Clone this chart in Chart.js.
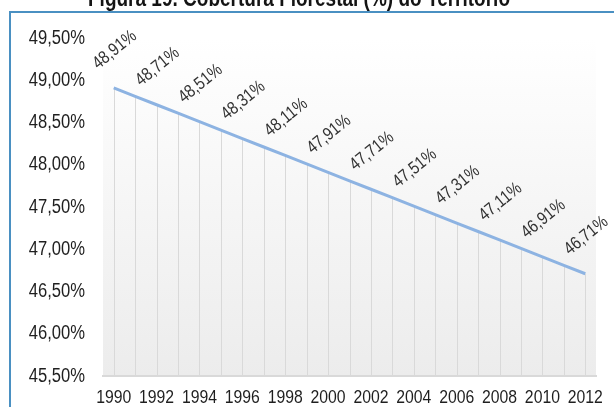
<!DOCTYPE html>
<html>
<head>
<meta charset="utf-8">
<script src="https://cdn.jsdelivr.net/npm/chart.js@4"></script>
<style>
  html, body { margin: 0; padding: 0; background: #fff; }
  #wrap { width: 614px; height: 407px; position: relative; }
</style>
</head>
<body>
<div id="wrap"><canvas id="myChart" width="614" height="407"></canvas></div>
<script>
'use strict';

const years = ['1990', '1991', '1992', '1993', '1994', '1995', '1996', '1997', '1998', '1999', '2000',
  '2001', '2002', '2003', '2004', '2005', '2006', '2007', '2008', '2009', '2010', '2011', '2012'];
const cobertura = [48.91, 48.81, 48.71, 48.61, 48.51, 48.41, 48.31, 48.21, 48.11, 48.01, 47.91,
  47.81, 47.71, 47.61, 47.51, 47.41, 47.31, 47.21, 47.11, 47.01, 46.91, 46.81, 46.71];
const titleText = 'Figura 19. Cobertura Florestal (%) do Território';

const pct = v => v.toFixed(2).replace('.', ',') + '%';
const font = '"Liberation Sans", Arial, sans-serif';
const narrow = 0.83; // the original uses a narrow face, squeeze Liberation Sans

// draw text squeezed horizontally
function narrowText(c, txt, x, y, align) {
  c.save();
  c.translate(x, y);
  c.scale(narrow, 1);
  c.textAlign = align;
  c.fillText(txt, 0, 0);
  c.restore();
}

const backdrop = {
  id: 'backdrop',
  beforeDraw(chart) {
    const c = chart.ctx;
    const a = chart.chartArea;
    c.save();
    const g = c.createLinearGradient(0, a.top, 0, a.bottom);
    g.addColorStop(0, '#ffffff');
    g.addColorStop(1, '#ececec');
    c.fillStyle = g;
    c.fillRect(a.left, a.top, a.right - a.left, a.bottom - a.top);

    c.strokeStyle = '#4a90c2';
    c.lineWidth = 2;
    c.strokeRect(10, 12, chart.width + 20, chart.height + 20);

    // title, mostly cut off at the top edge
    c.fillStyle = '#141414';
    c.font = 'bold 23px ' + font;
    c.textBaseline = 'alphabetic';
    const w = c.measureText(titleText).width;
    c.save();
    c.translate(299, 6);
    c.scale(422 / w, 1);
    c.textAlign = 'center';
    c.fillText(titleText, 0, 0);
    c.restore();

    // axis labels
    const x = chart.scales.x, y = chart.scales.y;
    c.fillStyle = '#1f1f1f';
    c.textBaseline = 'middle';
    c.font = '20px ' + font;
    y.ticks.forEach(t => {
      narrowText(c, pct(t.value), a.left - 18, y.getPixelForValue(t.value), 'right');
    });
    c.font = '19px ' + font;
    years.forEach((yr, i) => {
      if (i % 2) return;
      narrowText(c, yr, x.getPixelForValue(i), a.bottom + 22, 'center');
    });
    c.restore();
  },
  // drop lines from each point to the axis
  beforeDatasetsDraw(chart) {
    const c = chart.ctx;
    const x = chart.scales.x, y = chart.scales.y;
    c.save();
    c.strokeStyle = '#d9d9d9';
    c.lineWidth = 1;
    cobertura.forEach((v, i) => {
      const px = Math.round(x.getPixelForValue(i)) + 0.5;
      c.beginPath();
      c.moveTo(px, y.getPixelForValue(v));
      c.lineTo(px, chart.chartArea.bottom);
      c.stroke();
    });
    c.restore();
  },
  // rotated value labels on even years
  afterDatasetsDraw(chart) {
    const c = chart.ctx;
    const x = chart.scales.x, y = chart.scales.y;
    c.save();
    c.fillStyle = '#333333';
    c.font = '18px ' + font;
    c.textAlign = 'center';
    c.textBaseline = 'middle';
    cobertura.forEach((v, i) => {
      if (i % 2) return;
      c.save();
      c.translate(x.getPixelForValue(i) + 1, y.getPixelForValue(v) - 38);
      c.rotate(-39 * Math.PI / 180);
      c.scale(narrow, 1);
      c.fillText(pct(v), 0, 0);
      c.restore();
    });
    c.restore();
  }
};

const ctx = document.getElementById('myChart');

let chartObj = {
  type: 'line',
  data: {
    labels: years,
    datasets: [{
      label: 'Cobertura Florestal',
      data: cobertura,
      borderColor: '#8db3e2',
      borderWidth: 3,
      pointRadius: 0,
      tension: 0,
      fill: false
    }]
  },
  options: {
    responsive: false,
    animation: false,
    layout: { padding: { left: 0, right: 18, top: 38, bottom: 0 } },
    plugins: {
      legend: { display: false },
      tooltip: { enabled: false }
    },
    scales: {
      x: {
        offset: true,
        grid: { display: false, drawTicks: false },
        border: { display: true, color: '#d9d9d9', width: 2 },
        afterFit(s) { s.height = 31; },
        ticks: { display: false, autoSkip: false }
      },
      y: {
        min: 45.5,
        max: 49.5,
        grid: { display: false, drawTicks: false },
        border: { display: false },
        afterFit(s) { s.width = 103; },
        ticks: { display: false, stepSize: 0.5 }
      }
    }
  },
  plugins: [backdrop]
};

new Chart(ctx, chartObj);
</script>
</body>
</html>
